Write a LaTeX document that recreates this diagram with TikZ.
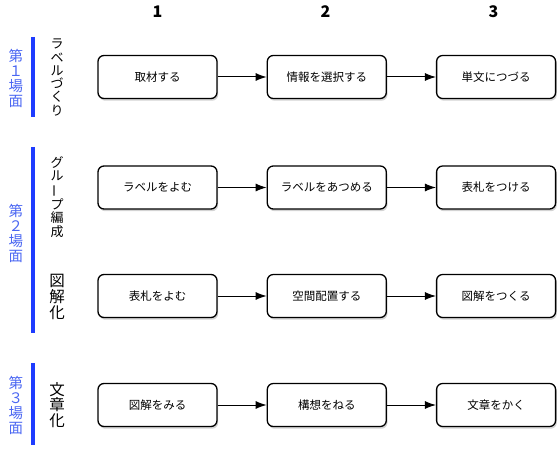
\documentclass[tikz,border=0pt]{standalone}
\usepackage{graphicx}
\usepackage{fontspec}
\setmainfont{Noto Sans CJK JP}
\usepackage{xcolor}
\usetikzlibrary{arrows.meta,positioning,shadows}
\definecolor{scene}{HTML}{1E3CFF}
\definecolor{scenetext}{HTML}{4A66F2}
\newcommand{\tatebar}{\rotatebox[origin=c]{90}{ー}}

\begin{document}
\begin{tikzpicture}[x=1pt, y=-1pt, node distance=49pt,
  every node/.style={inner sep=0pt, align=center},
  stepbox/.style={draw, line width=1.3pt, rounded corners=6pt, fill=white,
    minimum width=119pt, minimum height=43pt, font=\fontsize{11.5}{12}\selectfont,
    drop shadow={shadow xshift=1.2pt, shadow yshift=-2.2pt, opacity=0.35}},
  flow/.style={-{Latex[length=11pt,width=8pt]}, line width=1pt},
  colhead/.style={font=\fontsize{16}{16}\selectfont\bfseries},
  tatesmall/.style={font=\fontsize{13}{13.3}\selectfont},
  tatebig/.style={font=\fontsize{15.5}{15.7}\selectfont},
  scenelabel/.style={text=scenetext, font=\fontsize{14.5}{15}\selectfont},
  scenebar/.style={scene, line width=4pt}]
\useasboundingbox (0,0) rectangle (559,449);
% column numbers
\node[colhead] (col1) at (157.5,12) {1};
\node[colhead] (col2) at (325.5,12) {2};
\node[colhead] (col3) at (493.5,12) {3};
% scenes
\node[scenelabel] (scene1) at (16,78) {第\\１\\場\\面};
\node[scenelabel] (scene2) at (16,233) {第\\２\\場\\面};
\node[scenelabel] (scene3) at (16,405) {第\\３\\場\\面};
\draw[scenebar] (33,37) -- (33,117);
\draw[scenebar] (33,147) -- (33,333);
\draw[scenebar] (33,363) -- (33,445);
% stages
\node[tatesmall] (stage1) at (57,77.5) {ラ\\ベ\\ル\\づ\\く\\り};
\node[tatesmall] (stage2) at (57,197) {グ\\ル\\\tatebar\\プ\\編\\成};
\node[tatebig] (stage3) at (57,297) {図\\解\\化};
\node[tatebig] (stage4) at (57,405) {文\\章\\化};
% steps
\node[stepbox] (label1) at (157.5,77) {取材する};
\node[stepbox, right=of label1] (label2) {情報を選択する};
\node[stepbox, right=of label2] (label3) {単文につづる};
\node[stepbox] (group1) at (157.5,187.5) {ラベルをよむ};
\node[stepbox, right=of group1] (group2) {ラベルをあつめる};
\node[stepbox, right=of group2] (group3) {表札をつける};
\node[stepbox] (zukai1) at (157.5,296) {表札をよむ};
\node[stepbox, right=of zukai1] (zukai2) {空間配置する};
\node[stepbox, right=of zukai2] (zukai3) {図解をつくる};
\node[stepbox] (bunsho1) at (157.5,405) {図解をみる};
\node[stepbox, right=of bunsho1] (bunsho2) {構想をねる};
\node[stepbox, right=of bunsho2] (bunsho3) {文章をかく};
\draw[flow] (label1) -- (label2);
\draw[flow] (label2) -- (label3);
\draw[flow] (group1) -- (group2);
\draw[flow] (group2) -- (group3);
\draw[flow] (zukai1) -- (zukai2);
\draw[flow] (zukai2) -- (zukai3);
\draw[flow] (bunsho1) -- (bunsho2);
\draw[flow] (bunsho2) -- (bunsho3);
\end{tikzpicture}
\end{document}
